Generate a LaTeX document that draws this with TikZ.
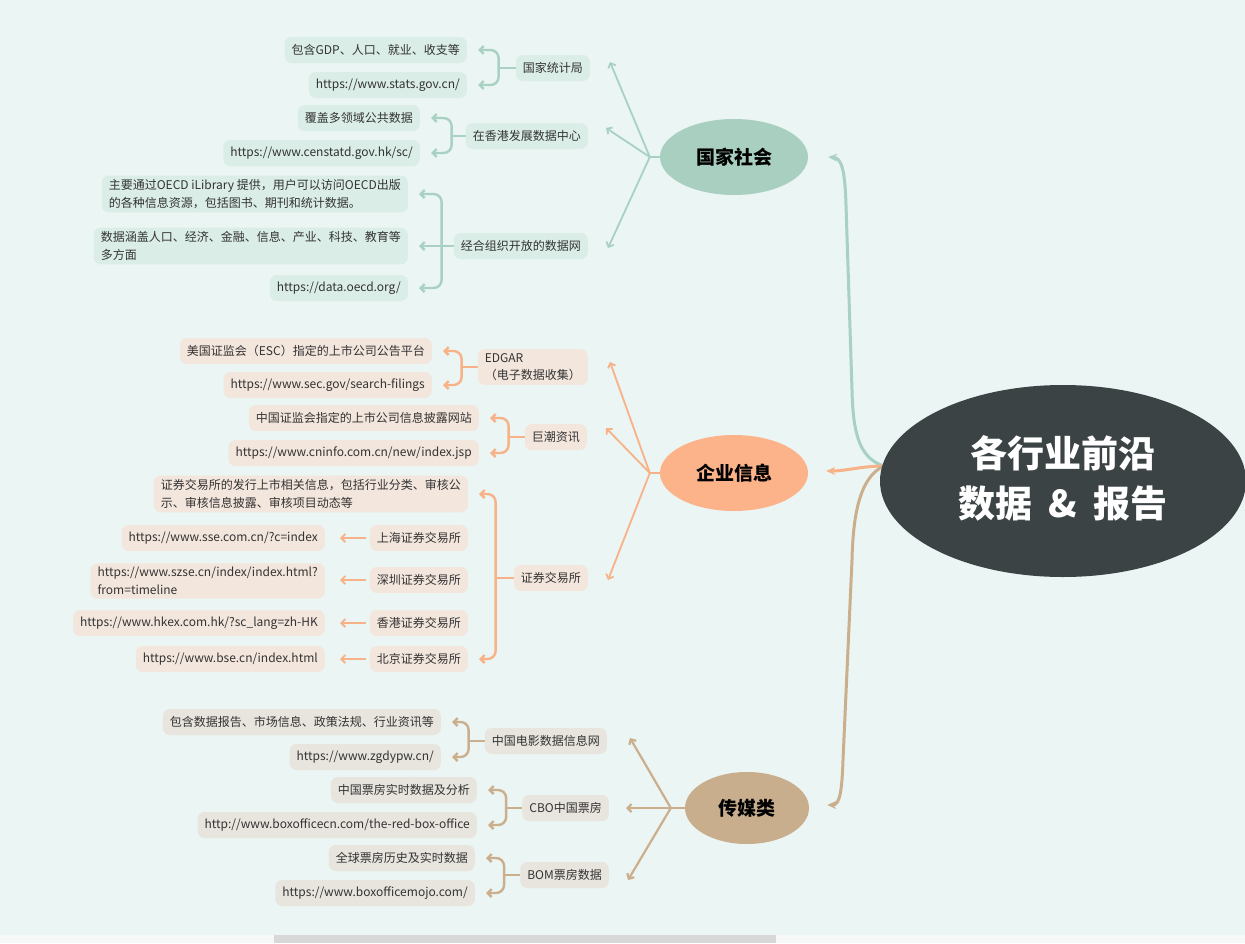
\documentclass[tikz,border=0pt]{standalone}
\usepackage{fontspec}
\setmainfont{Noto Sans CJK SC}
\usetikzlibrary{shapes.geometric,arrows.meta,calc}
\definecolor{bgc}{HTML}{EBF5F3}
\definecolor{strip}{HTML}{F7F9F8}
\definecolor{sbar}{HTML}{D8D8D8}
\definecolor{rootc}{HTML}{3C4345}
\definecolor{gline}{HTML}{A8D1C3}
\definecolor{gfill}{HTML}{A9CFC1}
\definecolor{gbox}{HTML}{DAEDE6}
\definecolor{oline}{HTML}{F7B287}
\definecolor{ofill}{HTML}{FCB38A}
\definecolor{obox}{HTML}{F3E6DD}
\definecolor{tline}{HTML}{CBAF8D}
\definecolor{tfill}{HTML}{C8AE8D}
\definecolor{tbox}{HTML}{E8E5DE}
\definecolor{txt}{HTML}{333333}
\pgfdeclarelayer{back}
\pgfdeclarelayer{conn}
\pgfsetlayers{back,conn,main}
\begin{document}
\begin{tikzpicture}[x=1pt,y=-1pt,
  leaf/.style={rounded corners=7pt, inner xsep=7pt, inner ysep=4pt, minimum height=26pt,
    font=\fontsize{12}{17.5}\selectfont, text=txt, anchor=east, align=left},
  gleaf/.style={leaf, fill=gbox},
  oleaf/.style={leaf, fill=obox},
  tleaf/.style={leaf, fill=tbox},
  mainnode/.style={ellipse, minimum width=148pt, minimum height=76pt, inner sep=0pt,
    font=\fontsize{19}{22}\selectfont\bfseries, text=black},
  tipb/.style={-{Straight Barb[length=4pt,width=8pt]}},
  gbr/.style={draw=gline, line width=2.4pt, rounded corners=8pt},
  obr/.style={draw=oline, line width=2.4pt, rounded corners=8pt},
  tbr/.style={draw=tline, line width=2.4pt, rounded corners=8pt},
  gfan/.style={draw=gline, line width=1.8pt},
  ofan/.style={draw=oline, line width=1.8pt},
  tfan/.style={draw=tline, line width=2.2pt},
  mtip/.style={-{Stealth[length=9pt,width=8pt]}}
]
\useasboundingbox (0,0) rectangle (1245,943);
\begin{pgfonlayer}{back}
\fill[bgc] (0,0) rectangle (1245,935);
\fill[strip] (0,935) rectangle (1245,943);
\fill[sbar] (274,935) rectangle (776,943);
\end{pgfonlayer}

% root and main nodes
\node[ellipse, fill=rootc, minimum width=366pt, minimum height=192pt, inner sep=0pt,
  text=white, align=center, font=\fontsize{37}{50}\selectfont\bfseries] (root) at (1063,481)
  {\raisebox{9pt}{\shortstack{各行业前沿\\[11pt]数据\hspace{16pt}\&\hspace{16pt}报告}}};
\node[mainnode, fill=gfill] (ns) at (734,157) {国家社会};
\node[mainnode, fill=ofill] (qy) at (734,473) {企业信息};
\node[mainnode, fill=tfill, minimum width=124pt, minimum height=72pt] (cm) at (747,808) {传媒类};

% level 2
\node[gleaf] (g1) at (590,68) {国家统计局};
\node[gleaf] (g2) at (588,136) {在香港发展数据中心};
\node[gleaf] (g3) at (588,246) {经合组织开放的数据网};
\node[oleaf] (o1) at (588,367) {EDGAR\\（电子数据收集）};
\node[oleaf] (o2) at (587,437) {巨潮资讯};
\node[oleaf] (o3) at (588,578) {证券交易所};
\node[tleaf] (t1) at (607,741) {中国电影数据信息网};
\node[tleaf] (t2) at (609,808) {CBO中国票房};
\node[tleaf] (t3) at (609,875) {BOM票房数据};

% leaves
\node[gleaf] (g1a) at (467,50) {包含GDP、人口、就业、收支等};
\node[gleaf] (g1b) at (467,85) {https://www.stats.gov.cn/};
\node[gleaf] (g2a) at (420,118) {覆盖多领域公共数据};
\node[gleaf] (g2b) at (420,153) {https://www.censtatd.gov.hk/sc/};
\node[gleaf] (g3a) at (408,194) {主要通过OECD iLibrary 提供，用户可以访问OECD出版\\的各种信息资源，包括图书、期刊和统计数据。};
\node[gleaf] (g3b) at (408,246) {数据涵盖人口、经济、金融、信息、产业、科技、教育等\\多方面};
\node[gleaf] (g3c) at (408,288) {https://data.oecd.org/};

\node[oleaf] (o1a) at (432,351) {美国证监会（ESC）指定的上市公司公告平台};
\node[oleaf] (o1b) at (432,385) {https://www.sec.gov/search-filings};
\node[oleaf] (o2a) at (479,418) {中国证监会指定的上市公司信息披露网站};
\node[oleaf] (o2b) at (479,453) {https://www.cninfo.com.cn/new/index.jsp};
\node[oleaf] (o3a) at (468,494) {证券交易所的发行上市相关信息，包括行业分类、审核公\\示、审核信息披露、审核项目动态等};
\node[oleaf] (o3b) at (468,538) {上海证券交易所};
\node[oleaf] (o3c) at (468,580) {深圳证券交易所};
\node[oleaf] (o3d) at (468,623) {香港证券交易所};
\node[oleaf] (o3e) at (468,659) {北京证券交易所};
\node[oleaf] (o3b1) at (325,538) {https://www.sse.com.cn/?c=index};
\node[oleaf] (o3c1) at (325,581) {https://www.szse.cn/index/index.html?\\from=timeline};
\node[oleaf] (o3d1) at (325,623) {https://www.hkex.com.hk/?sc\_lang=zh-HK};
\node[oleaf] (o3e1) at (325,659) {https://www.bse.cn/index.html};

\node[tleaf] (t1a) at (441,722) {包含数据报告、市场信息、政策法规、行业资讯等};
\node[tleaf] (t1b) at (441,757) {https://www.zgdypw.cn/};
\node[tleaf] (t2a) at (477,790) {中国票房实时数据及分析};
\node[tleaf] (t2b) at (477,825) {http://www.boxofficecn.com/the-red-box-office};
\node[tleaf] (t3a) at (475,858) {全球票房历史及实时数据};
\node[tleaf] (t3b) at (475,893) {https://www.boxofficemojo.com/};

\begin{pgfonlayer}{conn}
% main connectors from root
\coordinate (rj) at ($(root.west)+(4,-15)$);
\draw[draw=gline, line width=3pt, mtip] (rj) .. controls (858,458) and (853,430) .. (852,390)
  -- (846,205) .. controls (845,172) and (842,158) .. ($(ns.east)+(20,0)$);
\draw[draw=oline, line width=3pt, mtip] (rj) .. controls (862,466) and (846,471) .. ($(qy.east)+(18,-2)$);
\draw[draw=tline, line width=3pt, mtip] (rj) .. controls (858,478) and (853,520) .. (852,560)
  -- (843,760) .. controls (842,790) and (840,805) .. ($(cm.east)+(18,-3)$);

% fans from main nodes
\draw[gfan] (ns.west) -- ++(-10,0) coordinate (nsj);
\draw[gfan, tipb] (nsj) -- ($(g1.east)+(20,-6)$);
\draw[gfan, tipb] (nsj) -- ($(g2.east)+(18,-8)$);
\draw[gfan, tipb] (nsj) -- ($(g3.east)+(20,2)$);
\draw[ofan] (qy.west) -- ++(-10,0) coordinate (qyj);
\draw[ofan, tipb] (qyj) -- ($(o1.east)+(22,-5)$);
\draw[ofan, tipb] (qyj) -- ($(o2.east)+(19,-9)$);
\draw[ofan, tipb] (qyj) -- ($(o3.east)+(20,2)$);
\draw[tfan] (cm.west) -- ++(-14,0) coordinate (cmj);
\draw[tfan, tipb] (cmj) -- ($(t1.east)+(23,-3)$);
\draw[tfan, tipb] (cmj) -- ($(t2.east)+(17,0)$);
\draw[tfan, tipb] (cmj) -- ($(t3.east)+(19,5)$);

% braces
\draw[gbr] (g1.west) -- ++(-17,0) coordinate (g1j);
\draw[gbr, tipb] (g1j) |- ($(g1a.east)+(11,0)$);
\draw[gbr, tipb] (g1j) |- ($(g1b.east)+(11,0)$);
\draw[gbr] (g2.west) -- ++(-14,0) coordinate (g2j);
\draw[gbr, tipb] (g2j) |- ($(g2a.east)+(11,0)$);
\draw[gbr, tipb] (g2j) |- ($(g2b.east)+(11,0)$);
\draw[gbr] (g3.west) -- ++(-12,0) coordinate (g3j);
\draw[gbr, tipb] (g3j) |- ($(g3a.east)+(11,0)$);
\draw[gbr, tipb] (g3j) -- ($(g3b.east)+(11,0)$);
\draw[gbr, tipb] (g3j) |- ($(g3c.east)+(11,0)$);

\draw[obr] (o1.west) -- ++(-16,0) coordinate (o1j);
\draw[obr, tipb] (o1j) |- ($(o1a.east)+(11,0)$);
\draw[obr, tipb] (o1j) |- ($(o1b.east)+(11,0)$);
\draw[obr] (o2.west) -- ++(-16,0) coordinate (o2j);
\draw[obr, tipb] (o2j) |- ($(o2a.east)+(11,0)$);
\draw[obr, tipb] (o2j) |- ($(o2b.east)+(11,0)$);
\draw[obr] (o3.west) -- ++(-18,0) coordinate (o3j);
\draw[obr, tipb] (o3j) |- ($(o3a.east)+(11,0)$);
\draw[obr, tipb] (o3j) |- ($(o3e.east)+(11,0)$);
\draw[ofan, tipb] ($(o3b.west)+(-4,0)$) -- ($(o3b1.east)+(15,0)$);
\draw[ofan, tipb] ($(o3c.west)+(-4,0)$) -- ($(o3c1.east)+(15,-1)$);
\draw[ofan, tipb] ($(o3d.west)+(-4,0)$) -- ($(o3d1.east)+(15,0)$);
\draw[ofan, tipb] ($(o3e.west)+(-4,0)$) -- ($(o3e1.east)+(15,0)$);

\draw[tbr] (t1.west) -- ++(-16,0) coordinate (t1j);
\draw[tbr, tipb] (t1j) |- ($(t1a.east)+(11,0)$);
\draw[tbr, tipb] (t1j) |- ($(t1b.east)+(11,0)$);
\draw[tbr] (t2.west) -- ++(-16,0) coordinate (t2j);
\draw[tbr, tipb] (t2j) |- ($(t2a.east)+(11,0)$);
\draw[tbr, tipb] (t2j) |- ($(t2b.east)+(11,0)$);
\draw[tbr] (t3.west) -- ++(-16,0) coordinate (t3j);
\draw[tbr, tipb] (t3j) |- ($(t3a.east)+(11,0)$);
\draw[tbr, tipb] (t3j) |- ($(t3b.east)+(11,0)$);
\end{pgfonlayer}
\end{tikzpicture}
\end{document}
